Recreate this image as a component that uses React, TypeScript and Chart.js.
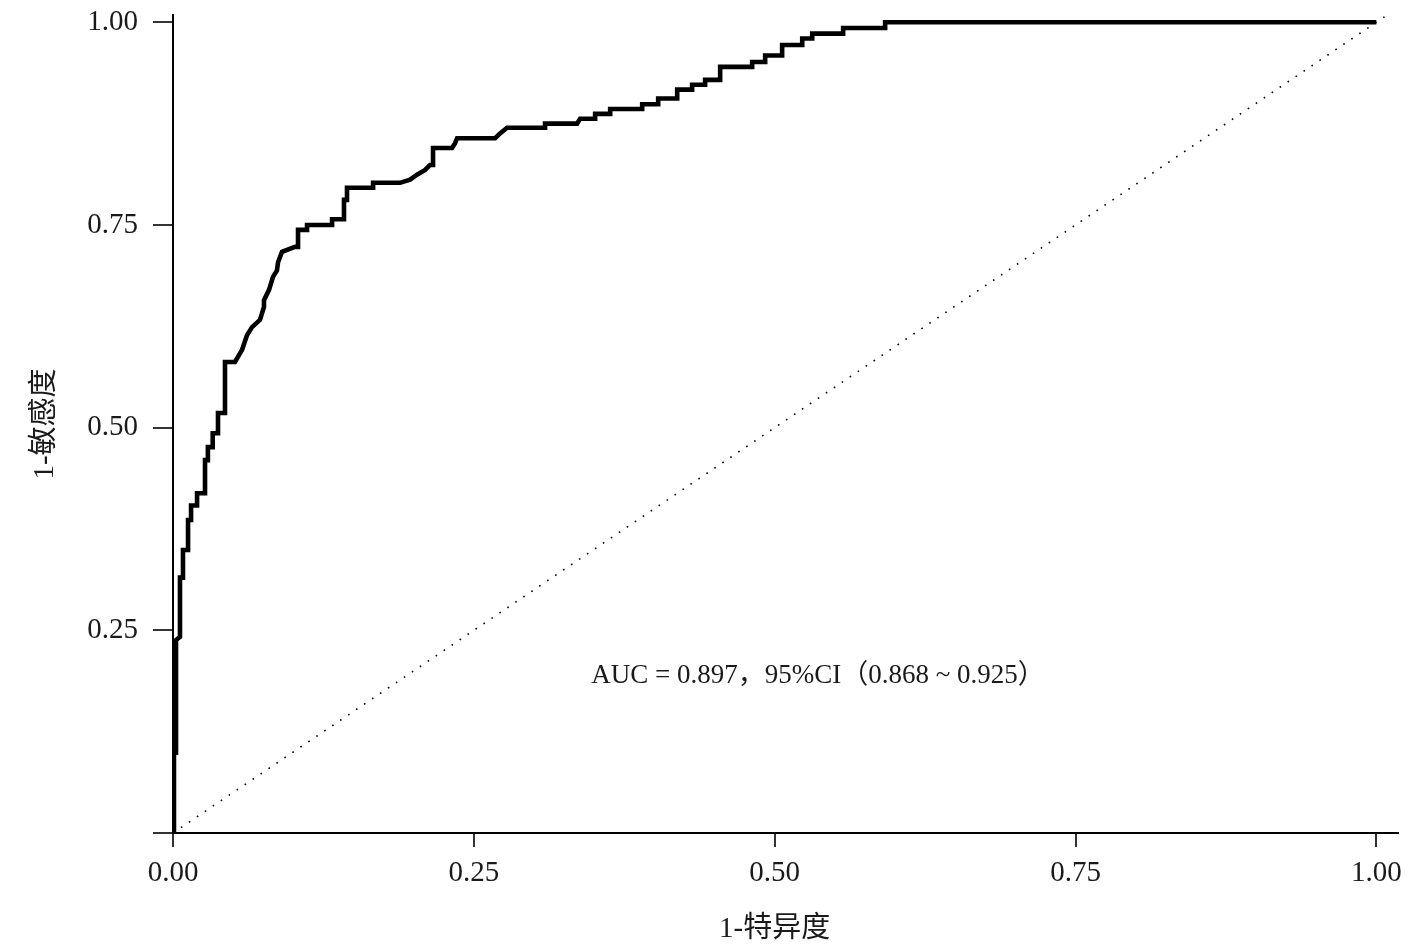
import React, { useEffect, useRef } from "react";
import { Chart, registerables } from "chart.js";

Chart.register(...registerables);

// ROC curve (1-specificity, sensitivity)
const FPR = [
  0, 0.0008, 0.0025, 0.0025, 0.0058, 0.0058, 0.0083, 0.0083, 0.0125, 0.0125,
  0.015, 0.015, 0.02, 0.02, 0.0266, 0.0266, 0.029, 0.029, 0.033, 0.033,
  0.0374, 0.0374, 0.0432, 0.0432, 0.0515, 0.0574, 0.0615, 0.0657, 0.0723, 0.0756,
  0.0756, 0.0798, 0.0831, 0.0864, 0.0873, 0.0906, 0.1014, 0.1039, 0.1039, 0.1114,
  0.1114, 0.1322, 0.1322, 0.1421, 0.1421, 0.1446, 0.1446, 0.1663, 0.1663, 0.1887,
  0.197, 0.2028, 0.2095, 0.2136, 0.2161, 0.2161, 0.2319, 0.2344, 0.2361, 0.2677,
  0.2718, 0.2776, 0.3092, 0.3092, 0.3358, 0.3383, 0.3508, 0.3508, 0.3633, 0.3633,
  0.3899, 0.3899, 0.4032, 0.4032, 0.419, 0.419, 0.4314, 0.4314, 0.4422, 0.4422,
  0.4547, 0.4547, 0.4813, 0.4813, 0.4921, 0.4921, 0.5062, 0.5062, 0.5229, 0.5229,
  0.5312, 0.5312, 0.5569, 0.5569, 0.5918, 0.5918, 1.0,
];
const TPR = [
  0, 0.099, 0.099, 0.238, 0.242, 0.315, 0.315, 0.349, 0.349, 0.386,
  0.386, 0.404, 0.404, 0.419, 0.419, 0.46, 0.46, 0.476, 0.476, 0.493,
  0.493, 0.518, 0.518, 0.581, 0.581, 0.596, 0.614, 0.624, 0.633, 0.649,
  0.657, 0.67, 0.686, 0.694, 0.704, 0.717, 0.723, 0.723, 0.744, 0.744,
  0.75, 0.75, 0.757, 0.757, 0.781, 0.781, 0.796, 0.796, 0.802, 0.802,
  0.806, 0.812, 0.818, 0.824, 0.824, 0.845, 0.845, 0.851, 0.857, 0.857,
  0.863, 0.87, 0.87, 0.875, 0.875, 0.881, 0.881, 0.887, 0.887, 0.893,
  0.893, 0.899, 0.899, 0.906, 0.906, 0.917, 0.917, 0.923, 0.923, 0.929,
  0.929, 0.945, 0.945, 0.951, 0.951, 0.959, 0.959, 0.972, 0.972, 0.98,
  0.98, 0.986, 0.986, 0.993, 0.993, 1.0, 1.0,
];

// reference diagonal
const DIAG_X = [0, 1.03];
const DIAG_Y = [0, 1.03];

const X_TICKS = [0, 0.25, 0.5, 0.75, 1];
const Y_TICKS = [0, 0.25, 0.5, 0.75, 1];
const X_TICK_LABELS = ["0.00", "0.25", "0.50", "0.75", "1.00"];
const Y_TICK_LABELS = ["", "0.25", "0.50", "0.75", "1.00"];

const X_TITLE = "1-特异度";
const Y_TITLE = "1-敏感度";
const AUC_TEXT = "AUC = 0.897，95%CI（0.868 ~ 0.925）";
const AUC_AT = [0.3475, 0.194];

const FONT_FAMILY = '"Liberation Serif", "Noto Sans CJK SC", serif';
const TEXT_COLOR = "#1a1a1a";

export default function App() {
  const ref = useRef<HTMLCanvasElement | null>(null);

  useEffect(() => {
    if (!ref.current) return;

    const textPlugin = {
      id: "textPlugin",
      afterDraw(chart: any) {
        const { ctx, scales } = chart;
        const xs = scales.x;
        const ys = scales.y;
        ctx.save();
        ctx.fillStyle = TEXT_COLOR;
        ctx.textBaseline = "middle";
        ctx.textAlign = "left";
        ctx.font = `27px ${FONT_FAMILY}`;
        ctx.fillText(AUC_TEXT, xs.getPixelForValue(AUC_AT[0]), ys.getPixelForValue(AUC_AT[1]));
        ctx.textAlign = "center";
        ctx.font = `29px ${FONT_FAMILY}`;
        ctx.fillText(X_TITLE, xs.getPixelForValue(0.5), chart.height - 15);
        ctx.restore();
      },
    };

    const chart = new Chart(ref.current, {
      type: "line",
      data: {
        datasets: [
          {
            data: FPR.map((x, i) => ({ x, y: TPR[i] })),
            borderColor: "#000",
            borderWidth: 4.6,
            pointRadius: 0,
            tension: 0,
            fill: false,
            borderJoinStyle: "miter",
            borderCapStyle: "butt",
          },
          {
            data: DIAG_X.map((x, i) => ({ x, y: DIAG_Y[i] })),
            borderColor: "#000",
            borderWidth: 1.6,
            borderDash: [1.6, 8],
            pointRadius: 0,
            tension: 0,
            fill: false,
          },
        ],
      },
      options: {
        responsive: false,
        animation: false,
        devicePixelRatio: 1,
        layout: { padding: { left: 0, right: 21, top: 15, bottom: 0 } },
        plugins: {
          legend: { display: false },
          tooltip: { enabled: false },
        },
        scales: {
          x: {
            type: "linear",
            min: 0,
            max: 1.018,
            afterBuildTicks: (s: any) => {
              s.ticks = X_TICKS.map((v) => ({ value: v }));
            },
            afterFit: (s: any) => {
              s.height = 111;
              s.paddingLeft = 0;
              s.paddingRight = 0;
            },
            ticks: {
              autoSkip: false,
              maxRotation: 0,
              padding: 9,
              color: TEXT_COLOR,
              font: { family: FONT_FAMILY, size: 29, lineHeight: 1.2 },
              callback: (v: any) => {
                const i = X_TICKS.indexOf(Number(v));
                return i >= 0 ? X_TICK_LABELS[i] : "";
              },
            },
            grid: {
              drawOnChartArea: false,
              drawTicks: true,
              tickLength: 14,
              tickColor: "#333",
              tickWidth: 2,
              lineWidth: 2,
            },
            border: { display: true, color: "#000", width: 2 },
          },
          y: {
            type: "linear",
            min: 0,
            max: 1.009,
            afterBuildTicks: (s: any) => {
              s.ticks = Y_TICKS.map((v) => ({ value: v }));
            },
            afterFit: (s: any) => {
              s.width = 173;
              s.paddingTop = 0;
              s.paddingBottom = 0;
            },
            ticks: {
              autoSkip: false,
              padding: 15,
              color: TEXT_COLOR,
              font: { family: FONT_FAMILY, size: 29, lineHeight: 1.2 },
              callback: (v: any) => {
                const i = Y_TICKS.indexOf(Number(v));
                return i >= 0 ? Y_TICK_LABELS[i] : "";
              },
            },
            grid: {
              drawOnChartArea: false,
              drawTicks: true,
              tickLength: 20,
              tickColor: "#333",
              tickWidth: 2,
              lineWidth: 2,
            },
            border: { display: true, color: "#000", width: 2 },
            title: {
              display: true,
              text: Y_TITLE,
              color: TEXT_COLOR,
              font: { family: FONT_FAMILY, size: 29, lineHeight: 1.2 },
              padding: { top: 28, bottom: 0 },
            },
          },
        },
      },
      plugins: [textPlugin],
    } as any);

    return () => chart.destroy();
  }, []);

  return (
    <div style={{ position: "absolute", left: 0, top: 0, width: 1419, height: 944 }}>
      <canvas ref={ref} width={1419} height={944} style={{ display: "block" }} />
    </div>
  );
}
